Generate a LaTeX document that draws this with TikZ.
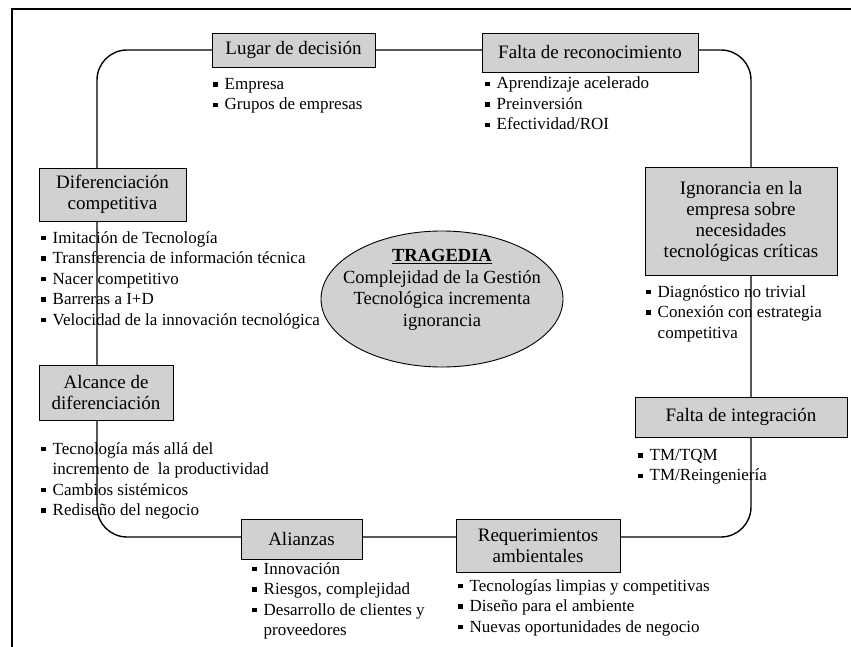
\documentclass[tikz,border=0pt]{standalone}
\usepackage{fontspec}
\setmainfont{Liberation Serif}
\usetikzlibrary{shapes.geometric}

\definecolor{boxgray}{rgb}{0.82,0.82,0.82}
\newcommand{\bul}{\raisebox{2.6pt}{\rule{4.5pt}{4.5pt}}\hspace{7pt}}
\newcommand{\cont}{\hphantom{\bul}}

\tikzset{
  titlebox/.style={draw, fill=boxgray, line width=0.8pt, inner sep=0pt, align=center,
    font=\fontsize{19}{21}\selectfont},
  bullets/.style={anchor=north west, inner sep=0pt, align=left,
    font=\fontsize{17}{20.5}\selectfont},
  loopline/.style={line width=1.4pt, rounded corners=30pt}
}

\begin{document}
\begin{tikzpicture}[x=1pt,y=-1pt]
  \useasboundingbox (0,0) rectangle (851,647);
  % frame
  \draw[line width=2.5pt] (12,647) -- (12,9) -- (851,9);
  % cycle
  \coordinate (top) at (424,50);
  \coordinate (lt) at (97,50);
  \coordinate (rt) at (751,50);
  \coordinate (rb) at (751,537);
  \coordinate (lb) at (97,537);
  \draw[loopline] (top) -- (rt) -- (rb) -- (lb) -- (lt) -- (top);
  % boxes
  \node[titlebox, minimum width=163pt, minimum height=34pt] (lugar) at (293.5,50) {Lugar de decisión};
  \node[titlebox, minimum width=216pt, minimum height=39pt] (faltarec) at (590,52.5) {Falta de reconocimiento};
  \node[titlebox, minimum width=147pt, minimum height=53pt] (difcomp) at (112.5,194.5) {Diferenciación\\competitiva};
  \node[titlebox, minimum width=192pt, minimum height=108pt] (ignor) at (741,221) {Ignorancia en la\\empresa sobre\\necesidades\\tecnológicas críticas};
  \node[titlebox, minimum width=134pt, minimum height=55pt] (alcance) at (106,392.5) {Alcance de\\diferenciación};
  \node[titlebox, minimum width=212pt, minimum height=40pt] (faltaint) at (741,417) {Falta de integración};
  \node[titlebox, minimum width=121pt, minimum height=40pt] (alianzas) at (301.5,539) {Alianzas};
  \node[titlebox, minimum width=164pt, minimum height=53pt] (reqamb) at (538,545.5) {Requerimientos\\ambientales};
  % lists
  \node[bullets] (lugarlist) at (213,78) {\bul Empresa\\\bul Grupos de empresas};
  \node[bullets] (faltareclist) at (485,77) {\bul Aprendizaje acelerado\\\bul Preinversión\\\bul Efectividad/ROI};
  \node[bullets] (difcomplist) at (41,231) {\bul Imitación de Tecnología\\\bul Transferencia de información técnica\\\bul Nacer competitivo\\\bul Barreras a I+D\\\bul Velocidad de la innovación tecnológica};
  \node[bullets] (ignorlist) at (646,285) {\bul Diagnóstico no trivial\\\bul Conexión con estrategia\\\cont competitiva};
  \node[bullets] (alcancelist) at (41,442) {\bul Tecnología más allá del\\\cont incremento de \ la productividad\\\bul Cambios sistémicos\\\bul Rediseño del negocio};
  \node[bullets] (faltaintlist) at (638,449) {\bul TM/TQM\\\bul TM/Reingeniería};
  \node[bullets] (alianzaslist) at (252,562) {\bul Innovación\\\bul Riesgos, complejidad\\\bul Desarrollo de clientes y\\\cont proveedores};
  \node[bullets] (reqamblist) at (458,579) {\bul Tecnologías limpias y competitivas\\\bul Diseño para el ambiente\\\bul Nuevas oportunidades de negocio};
  % center
  \node[ellipse, draw, fill=boxgray, line width=0.9pt, minimum width=242pt, minimum height=136pt] (trag) at (442,299) {};
  \node[align=center, inner sep=0pt, font=\fontsize{18.5}{21.5}\selectfont] (tragtxt) at (442,290)
    {\textbf{\underline{TRAGEDIA}}\\Complejidad de la Gestión\\Tecnológica incrementa\\ignorancia};
\end{tikzpicture}
\end{document}
